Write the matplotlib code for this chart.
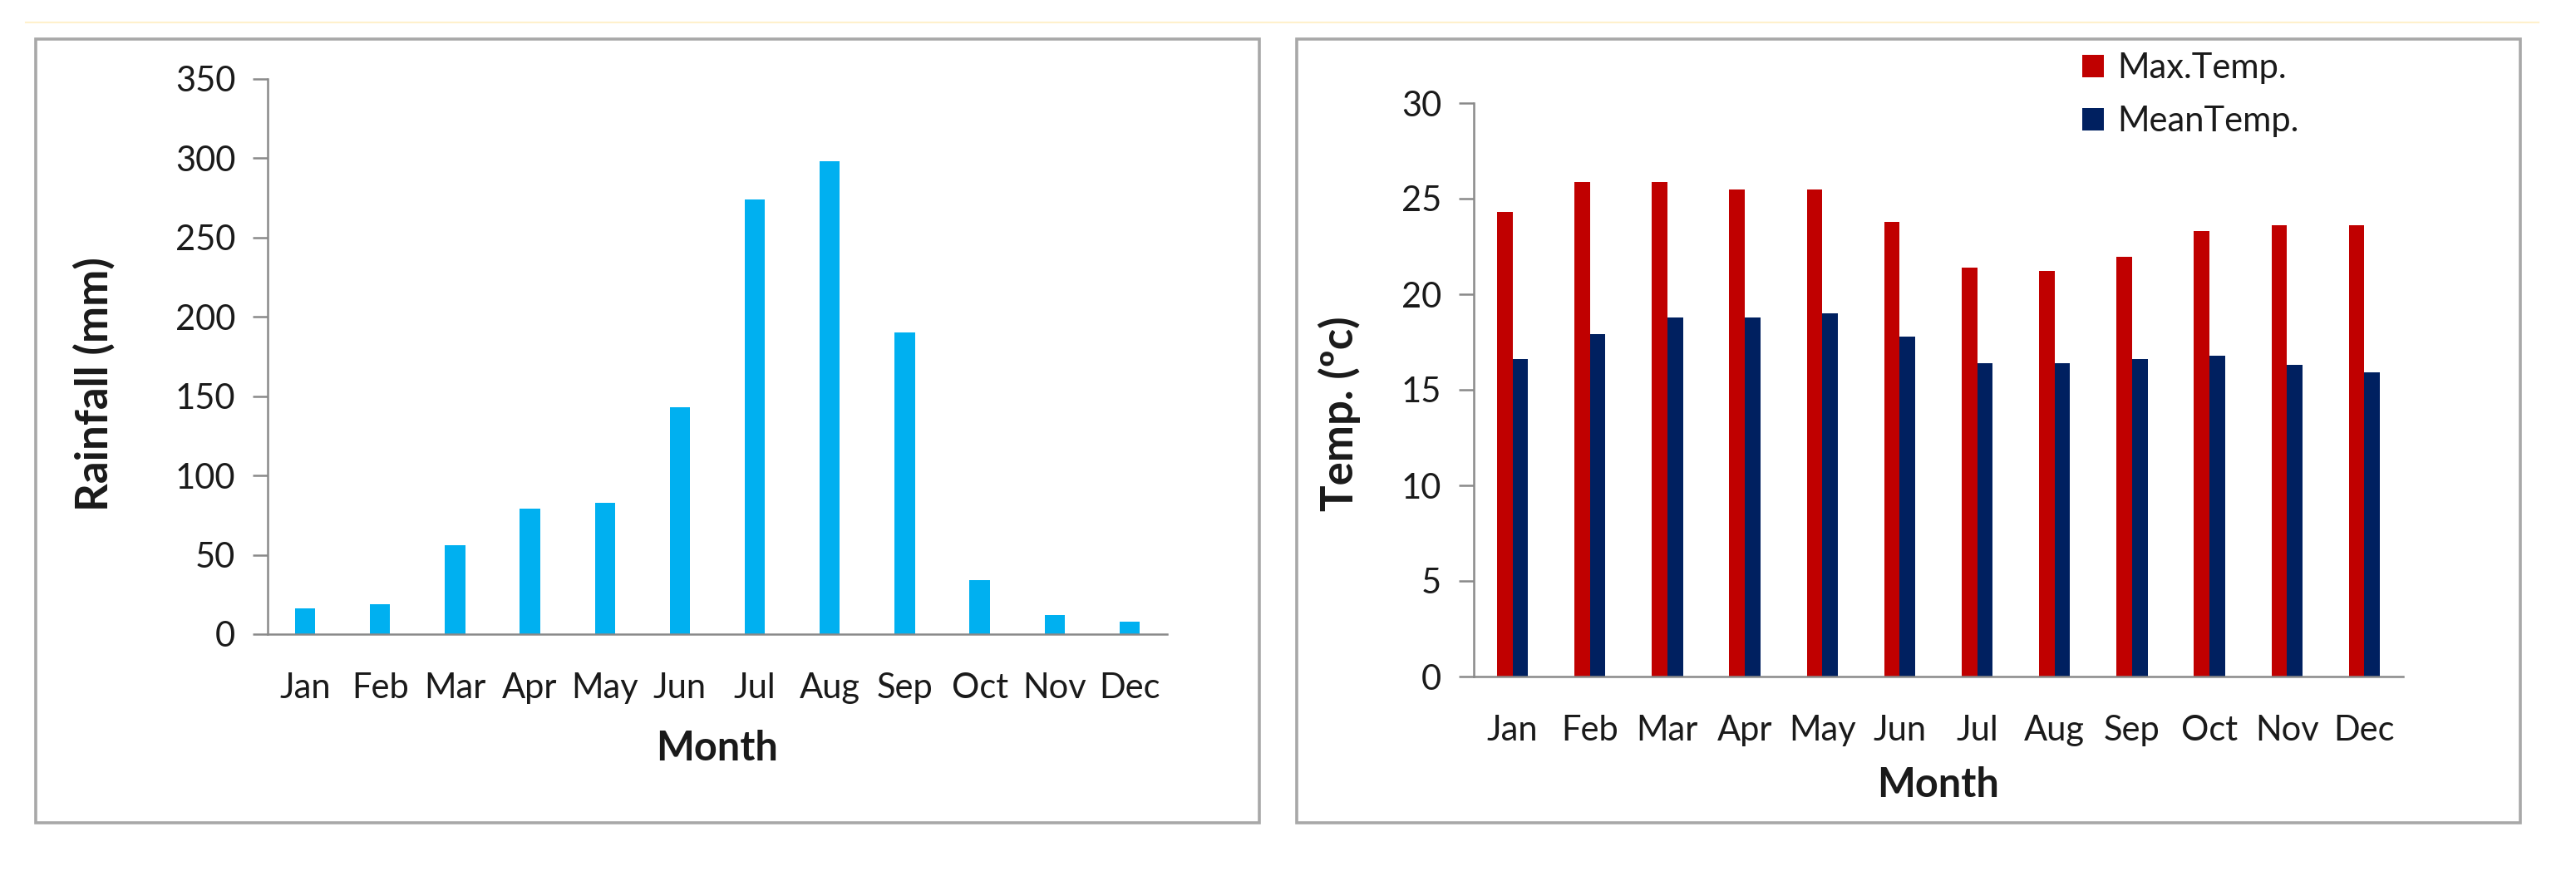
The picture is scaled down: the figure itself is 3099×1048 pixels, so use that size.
import matplotlib
matplotlib.use('Agg')
import numpy as np
import matplotlib.pyplot as plt
from matplotlib.patches import Rectangle
from matplotlib.lines import Line2D

# data
months = ['Jan', 'Feb', 'Mar', 'Apr', 'May', 'Jun', 'Jul', 'Aug', 'Sep', 'Oct', 'Nov', 'Dec']
rainfall = [16, 19, 56, 79, 83, 143, 274, 298, 190, 34, 12, 8]
max_temp = [24.3, 25.85, 25.85, 25.5, 25.5, 23.8, 21.4, 21.2, 21.95, 23.3, 23.6, 23.6]
mean_temp = [16.6, 17.9, 18.8, 18.8, 19.0, 17.8, 16.4, 16.4, 16.6, 16.8, 16.3, 15.9]

plt.rcParams['font.family'] = ['Lato', 'DejaVu Sans']

W, H = 3099, 1048
fig = plt.figure(figsize=(W / 100, H / 100), dpi=100)
fig.patch.set_facecolor('white')

axis_grey = '#898989'
text_col = '#1a1a1a'
tick_fs = 30
label_fs = 35
ylabel_fs = 38


def px_rect(x0, y0, x1, y1):
    # pixel box (from top-left) -> figure fraction [left, bottom, width, height]
    return [x0 / W, 1 - y1 / H, (x1 - x0) / W, (y1 - y0) / H]


def style_axes(ax):
    for s in ['top', 'right']:
        ax.spines[s].set_visible(False)
    for s in ['left', 'bottom']:
        ax.spines[s].set_color(axis_grey)
        ax.spines[s].set_linewidth(1.8)
    ax.tick_params(axis='x', length=0, pad=33, labelsize=tick_fs, labelcolor=text_col)
    ax.tick_params(axis='y', length=13, width=1.8, color=axis_grey, pad=15,
                   labelsize=tick_fs, labelcolor=text_col)
    ax.set_xlim(-0.5, 11.5)


# faint line along the top
fig.add_artist(Line2D([31 / W, 3054 / W], [1 - 27 / H, 1 - 27 / H],
                      transform=fig.transFigure, color='#FFF1CC', lw=1.5))

# panel frames
for x0, x1 in [(43, 1515), (1560, 3032)]:
    b = px_rect(x0, 47, x1, 990)
    fig.add_artist(Rectangle((b[0], b[1]), b[2], b[3], transform=fig.transFigure,
                             fill=False, ec='#A8A8A8', lw=2.6))

x = np.arange(len(months))

# rainfall
ax1 = fig.add_axes(px_rect(322, 95, 1404, 763))
ax1.bar(x, rainfall, width=0.27, color='#00B0F0')
ax1.set_ylim(0, 350)
ax1.set_yticks(range(0, 351, 50))
ax1.set_xticks(x)
ax1.set_xticklabels(months)
style_axes(ax1)
ax1.set_ylabel('Rainfall (mm)', fontsize=ylabel_fs, fontweight='bold', color=text_col)
ax1.yaxis.set_label_coords(-0.170, 0.45)
ax1.set_xlabel('Month', fontsize=label_fs, fontweight='bold', color=text_col)
ax1.xaxis.set_label_coords(0.5, -0.172)

# temperature
ax2 = fig.add_axes(px_rect(1773, 124, 2891, 814))
w = 0.2
ax2.bar(x - w / 2, max_temp, width=w, color='#C00000', label='Max.Temp.')
ax2.bar(x + w / 2, mean_temp, width=w, color='#002060', label='MeanTemp.')
ax2.set_ylim(0, 30)
ax2.set_yticks(range(0, 31, 5))
ax2.set_xticks(x)
ax2.set_xticklabels(months)
style_axes(ax2)
ax2.set_ylabel('Temp. (ºc)', fontsize=ylabel_fs, fontweight='bold', color=text_col)
ax2.yaxis.set_label_coords(-0.122, 0.458)
ax2.set_xlabel('Month', fontsize=label_fs, fontweight='bold', color=text_col)
ax2.xaxis.set_label_coords(0.5, -0.157)

leg = ax2.legend(loc='upper left', bbox_to_anchor=(2505 / W, 1 - 63 / H),
                 bbox_transform=fig.transFigure, frameon=False, fontsize=tick_fs,
                 handlelength=0.62, handleheight=0.62, handletextpad=0.4,
                 labelspacing=0.62, borderpad=0, borderaxespad=0)
for t in leg.get_texts():
    t.set_color(text_col)

fig.savefig('out.png', dpi=100)
